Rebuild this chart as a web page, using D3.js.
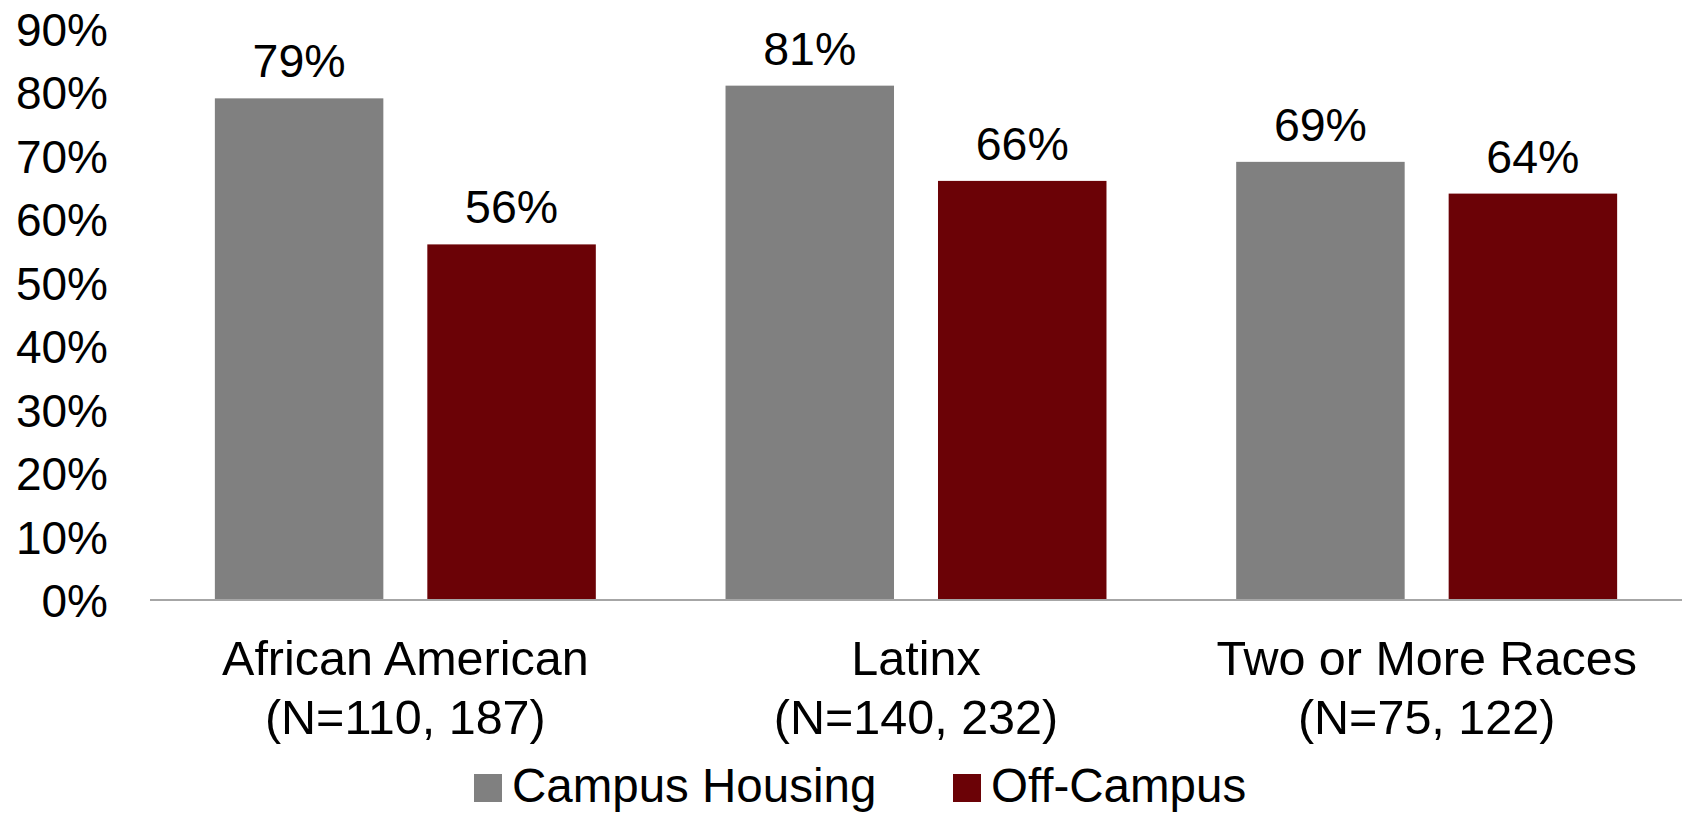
<!DOCTYPE html>
<html>
<head>
<meta charset="utf-8">
<script src="https://cdn.jsdelivr.net/npm/d3@7"></script>
<style>
  body { margin: 0; background: #fff; }
  svg text { font-family: "Liberation Sans", Arial, sans-serif; fill: #000; }
</style>
</head>
<body>
<div id="chart"></div>
<script>
(function(){
    var categories = ['African American', 'Latinx', 'Two or More Races'];
    var sampleSizes = ['(N=110, 187)', '(N=140, 232)', '(N=75, 122)'];
    var seriesNames = ['Campus Housing', 'Off-Campus'];
    var campusHousing = [79, 81, 69];
    var offCampus = [56, 66, 64];
    var yTicks = [0, 10, 20, 30, 40, 50, 60, 70, 80, 90];
    var colors = ['#808080', '#6B0206'];

    var W = 1685, H = 813;
    var left = 150, right = 1682, top = 28.5, bottom = 600;
    var fontSize = 48.5;

    var data = categories.map((c, i) => ({
        cat: c, n: sampleSizes[i],
        values: [campusHousing[i], offCampus[i]]
    }));

    var svg = d3.select('#chart').append('svg')
        .attr('width', W).attr('height', H);

    var x0 = d3.scaleBand().domain(categories).range([left, right]);
    var bw = x0.bandwidth();
    var x1 = d3.scaleBand().domain(seriesNames)
        .range([bw * 0.127, bw * 0.873])
        .paddingInner(0.207);
    var y = d3.scaleLinear().domain([0, 90]).range([bottom, top]);

    // y tick labels (no axis line)
    var yAxis = d3.axisLeft(y).tickValues(yTicks).tickFormat(d => d + '%').tickSize(0).tickPadding(0);
    var gy = svg.append('g').attr('transform', 'translate(' + (left - 42) + ',0)').call(yAxis);
    gy.select('.domain').remove();
    gy.selectAll('text').style('font-size', '46px').attr('dy', '0.36em');

    var groups = svg.selectAll('g.cat').data(data).enter()
        .append('g').attr('class', 'cat')
        .attr('transform', d => 'translate(' + x0(d.cat) + ',0)');

    groups.selectAll('rect')
        .data(d => d.values.map((v, j) => ({ s: seriesNames[j], v: v, j: j })))
        .enter().append('rect')
        .attr('x', d => x1(d.s))
        .attr('width', x1.bandwidth())
        .attr('y', d => y(d.v))
        .attr('height', d => y(0) - y(d.v))
        .attr('fill', d => colors[d.j]);

    groups.selectAll('text.val')
        .data(d => d.values.map((v, j) => ({ s: seriesNames[j], v: v })))
        .enter().append('text').attr('class', 'val')
        .attr('x', d => x1(d.s) + x1.bandwidth() / 2)
        .attr('y', d => y(d.v) - 21)
        .attr('text-anchor', 'middle')
        .style('font-size', '46.5px')
        .text(d => d.v + '%');

    // baseline
    svg.append('line')
        .attr('x1', left).attr('x2', right)
        .attr('y1', y(0)).attr('y2', y(0))
        .attr('stroke', '#A6A6A6').attr('stroke-width', 2);

    // category labels
    var lab = groups.append('text')
        .attr('text-anchor', 'middle')
        .style('font-size', fontSize + 'px');
    lab.append('tspan').attr('x', bw / 2).attr('y', 675).text(d => d.cat);
    lab.append('tspan').attr('x', bw / 2).attr('y', 734).text(d => d.n);

    // legend
    var legendX = [474, 953];
    var leg = svg.selectAll('g.leg').data(seriesNames).enter()
        .append('g').attr('class', 'leg')
        .attr('transform', (d, i) => 'translate(' + legendX[i] + ',0)');
    leg.append('rect').attr('x', 0).attr('y', 774).attr('width', 28).attr('height', 28)
        .attr('fill', (d, i) => colors[i]);
    leg.append('text').attr('x', 38).attr('y', 802)
        .style('font-size', '47.5px')
        .text(d => d);
})();
</script>
</body>
</html>
